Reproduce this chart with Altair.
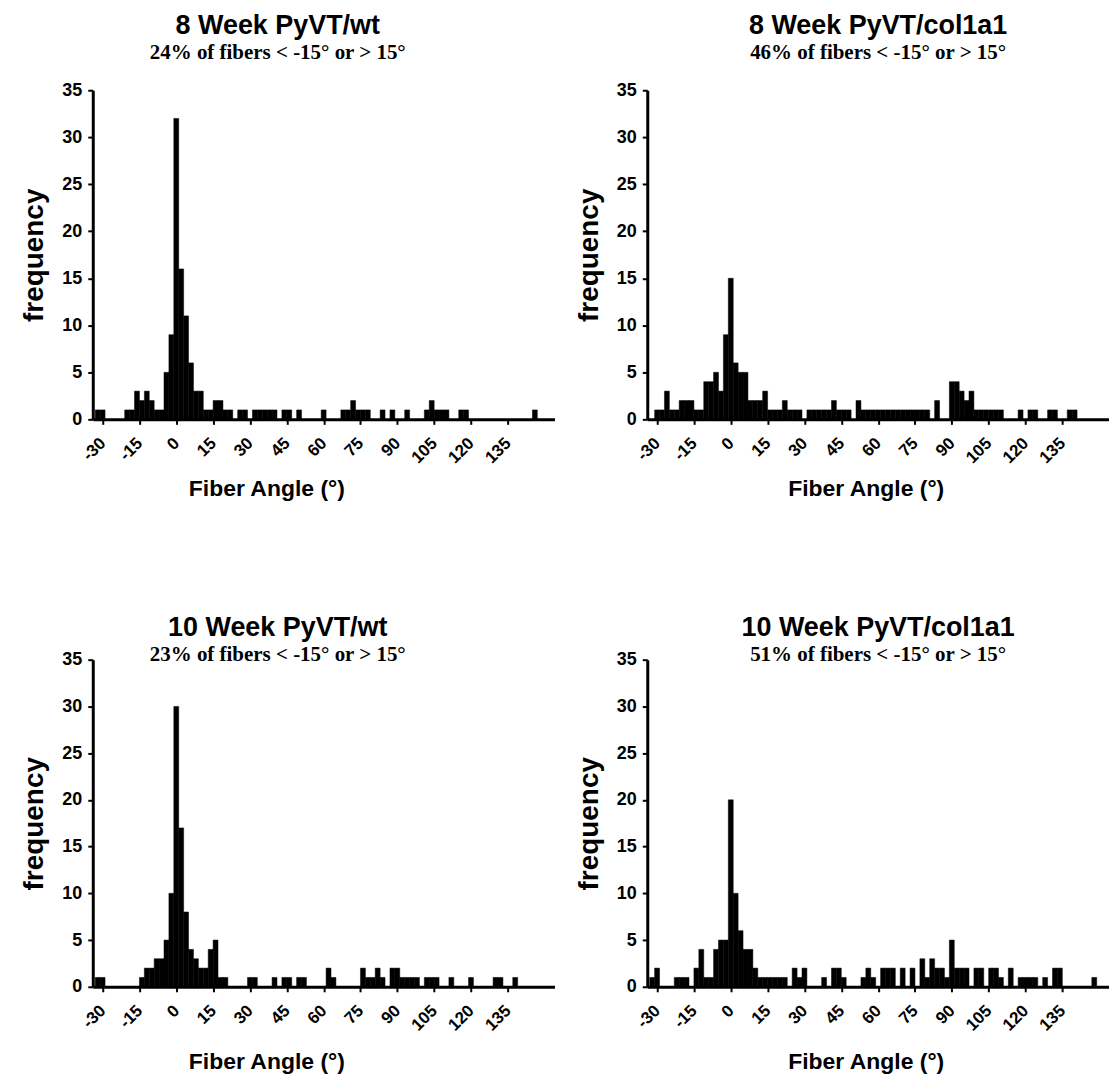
import altair as alt
import pandas as pd

# ---- data: bin centres (degrees, 2-degree bins) and counts (non-empty bins only) ----
wt8_angle = [-32, -30, -20, -18, -16, -14, -12, -10, -8, -6, -4, -2, 0, 2, 4, 6, 8, 10, 12, 14,
             16, 18, 20, 22, 26, 28, 32, 34, 36, 38, 40, 44, 46, 50, 60, 68, 70, 72, 74, 76,
             78, 84, 88, 94, 102, 104, 106, 108, 110, 116, 118, 146]
wt8_count = [1, 1, 1, 1, 3, 2, 3, 2, 1, 1, 5, 9, 32, 16, 11, 6, 3, 3, 1, 1,
             2, 2, 1, 1, 1, 1, 1, 1, 1, 1, 1, 1, 1, 1, 1, 1, 1, 2, 1, 1,
             1, 1, 1, 1, 1, 2, 1, 1, 1, 1, 1, 1]

col8_angle = [-30, -28, -26, -24, -22, -20, -18, -16, -14, -12, -10, -8, -6, -4, -2, 0, 2, 4, 6, 8,
              10, 12, 14, 16, 18, 20, 22, 24, 26, 28, 32, 34, 36, 38, 40, 42, 44, 46, 48, 52,
              54, 56, 58, 60, 62, 64, 66, 68, 70, 72, 74, 76, 78, 80, 84, 90, 92, 94, 96, 98,
              100, 102, 104, 106, 108, 110, 118, 122, 124, 130, 132, 138, 140]
col8_count = [1, 1, 3, 1, 1, 2, 2, 2, 1, 1, 4, 4, 5, 3, 9, 15, 6, 5, 5, 2,
              2, 2, 3, 1, 1, 1, 2, 1, 1, 1, 1, 1, 1, 1, 1, 2, 1, 1, 1, 2,
              1, 1, 1, 1, 1, 1, 1, 1, 1, 1, 1, 1, 1, 1, 2, 4, 4, 3, 2, 3,
              1, 1, 1, 1, 1, 1, 1, 1, 1, 1, 1, 1, 1]

wt10_angle = [-32, -30, -14, -12, -10, -8, -6, -4, -2, 0, 2, 4, 6, 8, 10, 12, 14, 16, 18, 20,
              30, 32, 40, 44, 46, 50, 52, 62, 64, 76, 78, 80, 82, 84, 88, 90, 92, 94, 96, 98,
              102, 104, 106, 112, 120, 130, 132, 138]
wt10_count = [1, 1, 1, 2, 2, 3, 3, 5, 10, 30, 17, 8, 4, 3, 2, 2, 4, 5, 1, 1,
              1, 1, 1, 1, 1, 1, 1, 2, 1, 2, 1, 1, 2, 1, 2, 2, 1, 1, 1, 1,
              1, 1, 1, 1, 1, 1, 1, 1]

col10_angle = [-32, -30, -22, -20, -18, -14, -12, -10, -8, -6, -4, -2, 0, 2, 4, 6, 8, 10, 12, 14,
               16, 18, 20, 22, 26, 28, 30, 38, 42, 44, 46, 54, 56, 58, 62, 64, 66, 70, 74, 78,
               80, 82, 84, 86, 88, 90, 92, 94, 96, 100, 102, 106, 108, 110, 114, 118, 120, 122, 124, 128,
               132, 134, 148]
col10_count = [1, 2, 1, 1, 1, 2, 4, 1, 1, 4, 5, 5, 20, 10, 6, 4, 4, 2, 1, 1,
               1, 1, 1, 1, 2, 1, 2, 1, 2, 2, 1, 1, 2, 1, 2, 2, 2, 2, 2, 3,
               1, 3, 2, 2, 1, 5, 2, 2, 2, 2, 2, 2, 2, 1, 2, 1, 1, 1, 1, 1,
               2, 2, 1]

titles = ["8 Week PyVT/wt", "8 Week PyVT/col1a1", "10 Week PyVT/wt", "10 Week PyVT/col1a1"]
subtitles = ["24% of fibers < -15° or > 15°", "46% of fibers < -15° or > 15°",
             "23% of fibers < -15° or > 15°", "51% of fibers < -15° or > 15°"]
x_ticks = [-30, -15, 0, 15, 30, 45, 60, 75, 90, 105, 120, 135]
y_ticks = [0, 5, 10, 15, 20, 25, 30, 35]
BIN = 2
PLOT_W = 463


def panel(angles, counts, title, subtitle, height, offset, dx, title_x, x_title_pad):
    df = pd.DataFrame({"angle": angles, "count": counts})
    df["lo"] = df["angle"] - BIN / 2
    df["hi"] = df["angle"] + BIN / 2
    df["base"] = 0
    return alt.Chart(
        df,
        title=alt.TitleParams(
            text=title, subtitle=subtitle,
            font="Liberation Sans", fontSize=27, fontWeight="bold", color="black",
            subtitleFont="Liberation Serif", subtitleFontSize=21, subtitleFontWeight="bold",
            subtitleColor="black", subtitlePadding=2,
            anchor="middle", frame="group", dx=dx, offset=offset,
        ),
    ).mark_bar(color="black", stroke="black", strokeWidth=0.5).encode(
        x=alt.X("lo:Q",
                scale=alt.Scale(domain=[-34, 154], nice=False, zero=False),
                axis=alt.Axis(values=x_ticks, title="Fiber Angle (°)", labelAngle=315,
                              labelAlign="right", labelBaseline="middle", labelPadding=16,
                              labelFontSize=17,
                              labelExpr="'' + datum.value", titlePadding=x_title_pad,
                              titleFontSize=23, titleX=title_x)),
        x2="hi:Q",
        y=alt.Y("count:Q",
                scale=alt.Scale(domain=[0, 35], nice=False),
                axis=alt.Axis(values=y_ticks, title="frequency", labelPadding=6,
                              labelFontSize=18, titleFontSize=28, titlePadding=13)),
        y2="base:Q",
    ).properties(width=PLOT_W, height=height)


p1 = panel(wt8_angle, wt8_count, titles[0], subtitles[0], 330, 17, -46, 174, 12)
p2 = panel(col8_angle, col8_count, titles[1], subtitles[1], 330, 17, 0, 219, 12)
p3 = panel(wt10_angle, wt10_count, titles[2], subtitles[2], 328, -15, -46, 174, 17)
p4 = panel(col10_angle, col10_count, titles[3], subtitles[3], 328, -15, 0, 219, 17)

chart = alt.vconcat(
    alt.hconcat(p1, p2, spacing=20),
    alt.hconcat(p3, p4, spacing=20),
    spacing=113,
).properties(
    padding={"left": 12, "top": 3, "right": 0, "bottom": 0}
).configure_view(stroke=None).configure_axis(
    grid=False,
    domainColor="black", domainWidth=3,
    tickColor="black", tickWidth=2, tickSize=5,
    labelFont="Liberation Sans", labelFontWeight="bold", labelColor="black",
    titleFont="Liberation Sans", titleFontWeight="bold", titleColor="black",
)

chart.save("out.html", embed_options={"renderer": "svg", "actions": False})
